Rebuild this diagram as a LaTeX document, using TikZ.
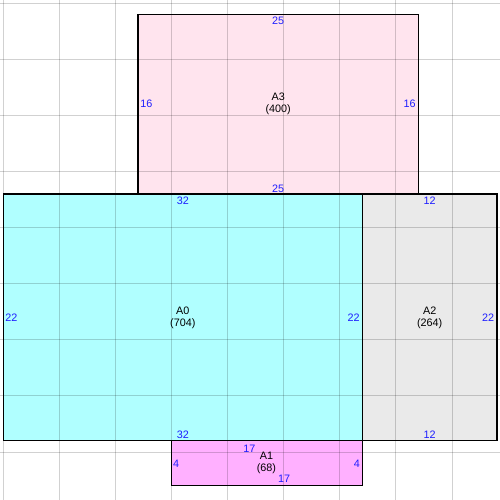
\documentclass[tikz,border=0pt]{standalone}
\usepackage{fontspec}
\setmainfont{Liberation Sans}
\definecolor{pinkA}{RGB}{255,228,238}
\definecolor{cyanA}{RGB}{176,255,255}
\definecolor{grayA}{RGB}{234,234,234}
\definecolor{magA}{RGB}{255,176,255}
\definecolor{dimblue}{RGB}{30,30,255}
\tikzset{
  room/.style={draw=black, line width=1.2pt},
  gridline/.style={draw=black, opacity=0.18, line width=1pt},
  dimlabel/.style={text=dimblue, inner sep=0pt, font=\fontsize{10.8}{12}\selectfont},
  namelabel/.style={text=black, inner sep=0pt, align=center, font=\fontsize{10.8}{12}\selectfont},
}
\begin{document}
\begin{tikzpicture}[x=11.22pt, y=-11.22pt]
\useasboundingbox (-0.294,-0.294) rectangle (44.27,44.27);
% fills
\fill[pinkA] (12,1) rectangle (37,17);
\fill[cyanA] (0,17) rectangle (32,39);
\fill[grayA] (32,17) rectangle (44,39);
\fill[magA] (15,39) rectangle (32,43);
% grid
\foreach \k in {0,5,...,40} {
  \draw[gridline] (\k,-0.294) -- (\k,44.27);
  \draw[gridline] (-0.294,\k) -- (44.27,\k);
}
% outlines
\draw[room] (12,1) rectangle (37,17);
\draw[room] (0,17) rectangle (32,39);
\draw[room] (32,17) rectangle (44,39);
\draw[room] (15,39) rectangle (32,43);
% A3
\node[namelabel] (a3name) at (24.5,9) {A3\\(400)};
\node[dimlabel] (a3top) at (24.5,1.58) {25};
\node[dimlabel] (a3bot) at (24.5,16.49) {25};
\node[dimlabel, anchor=west] (a3left) at (12.2,9) {16};
\node[dimlabel, anchor=east] (a3right) at (36.77,9) {16};
% A0
\node[namelabel] (a0name) at (16,28) {A0\\(704)};
\node[dimlabel] (a0top) at (16,17.62) {32};
\node[dimlabel] (a0bot) at (16,38.48) {32};
\node[dimlabel, anchor=west] (a0left) at (0.17,28) {22};
\node[dimlabel, anchor=east] (a0right) at (31.77,28) {22};
% A2
\node[namelabel] (a2name) at (38,28) {A2\\(264)};
\node[dimlabel] (a2top) at (38,17.62) {12};
\node[dimlabel] (a2bot) at (38,38.48) {12};
\node[dimlabel, anchor=east] (a2right) at (43.77,28) {22};
% A1
\node[namelabel] (a1name) at (23.45,40.93) {A1\\(68)};
\node[dimlabel] (a1top) at (21.93,39.72) {17};
\node[dimlabel] (a1bot) at (25.02,42.42) {17};
\node[dimlabel, anchor=west] (a1left) at (15.12,41.05) {4};
\node[dimlabel, anchor=east] (a1right) at (31.79,41.05) {4};
\end{tikzpicture}
\end{document}
